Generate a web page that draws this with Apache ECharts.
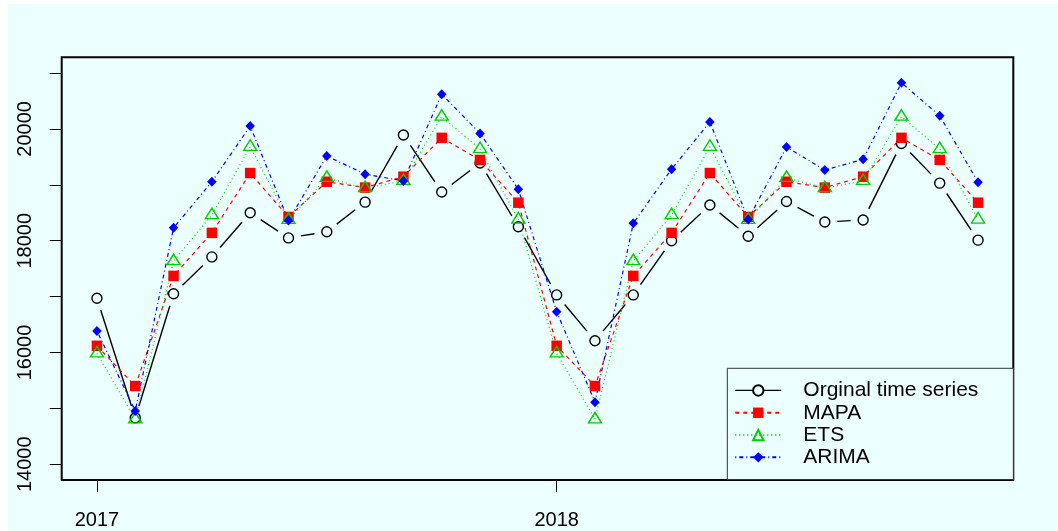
<!DOCTYPE html>
<html>
<head>
<meta charset="utf-8">
<script src="https://cdn.jsdelivr.net/npm/echarts@6/dist/echarts.min.js"></script>
<style>
  html, body { margin: 0; padding: 0; background: #ffffff; }
  #chart { position: absolute; left: 8px; top: 4px; width: 1050px; height: 527px; }
</style>
</head>
<body>
<div id="chart"></div>
<script>
// Monthly index: 0 = Jan 2017 ... 23 = Dec 2018
var months = [0, 1, 2, 3, 4, 5, 6, 7, 8, 9, 10, 11, 12, 13, 14, 15, 16, 17, 18, 19, 20, 21, 22, 23];

var original = [16970, 14830, 17050, 17710, 18500, 18050, 18160, 18690, 19890, 18870, 19390, 18250,
                17030, 16210, 17030, 18000, 18640, 18080, 18700, 18335, 18370, 19740, 19030, 18010];
var mapa     = [16120, 15400, 17370, 18140, 19210, 18425, 19055, 18950, 19145, 19840, 19445, 18680,
                16120, 15400, 17370, 18140, 19210, 18425, 19055, 18950, 19145, 19840, 19445, 18680];
var ets      = [15985, 14805, 17635, 18460, 19680, 18375, 19125, 18940, 19070, 20220, 19640, 18380,
                15985, 14805, 17635, 18460, 19680, 18375, 19125, 18940, 19070, 20220, 19640, 18380];
var arima    = [16385, 14955, 18230, 19055, 20050, 18360, 19515, 19190, 19070, 20620, 19920, 18920,
                16730, 15110, 18310, 19280, 20125, 18380, 19675, 19265, 19455, 20825, 20235, 19045];

var seriesNames = ['Orginal time series', 'MAPA', 'ETS', 'ARIMA'];

var xTickValues = [0, 12];
var xTickLabels = ['2017', '2018'];
var yTickValues = [14000, 15000, 16000, 17000, 18000, 19000, 20000, 21000];
var yLabelValues = [14000, 16000, 18000, 20000];

var BG = '#EBFFFF';
var FONT = '"Liberation Sans", Arial, Helvetica, sans-serif';

function pairs(ys) {
  return months.map(function (m, i) { return [m, ys[i]]; });
}

// Segments between consecutive observations (drawn with a gap around each point)
var segments = [];
for (var i = 0; i < months.length - 1; i++) {
  segments.push([months[i], original[i], months[i + 1], original[i + 1]]);
}

var chart = echarts.init(document.getElementById('chart'), null, { renderer: 'canvas' });

chart.setOption({
  animation: false,
  backgroundColor: BG,
  textStyle: { fontFamily: FONT },
  grid: {
    left: 53.7, top: 53.3, right: 44.7, bottom: 51,
    show: true, borderColor: '#000', borderWidth: 2, backgroundColor: 'transparent'
  },
  xAxis: {
    type: 'value', min: -0.92, max: 23.92,
    axisLine: { show: false, onZero: false },
    splitLine: { show: false },
    axisTick: { show: true, inside: false, length: 12, customValues: xTickValues,
                lineStyle: { color: '#000', width: 1 } },
    axisLabel: {
      customValues: xTickValues, margin: 30, color: '#000', fontSize: 20, fontFamily: FONT,
      formatter: function (v) { return xTickLabels[xTickValues.indexOf(v)]; }
    }
  },
  yAxis: {
    type: 'value', min: 13719, max: 21281,
    axisLine: { show: false, onZero: false },
    splitLine: { show: false },
    axisTick: { show: true, inside: false, length: 12, customValues: yTickValues,
                lineStyle: { color: '#000', width: 1 } },
    axisLabel: {
      customValues: yLabelValues, rotate: 90, margin: 26, color: '#000', fontSize: 20, fontFamily: FONT,
      formatter: function (v) { return String(v); }
    }
  },
  legend: {
    orient: 'vertical', left: 719.3, top: 364.3,
    itemWidth: 46, itemHeight: 13, itemGap: 0,
    padding: [11, 35, 11, 7],
    borderColor: '#333', borderWidth: 1, backgroundColor: BG,
    selectedMode: false,
    textStyle: { fontSize: 21, color: '#000', fontFamily: FONT, lineHeight: 22.3, padding: [0, 0, 0, 17] },
    data: [
      { name: seriesNames[0], lineStyle: { color: '#000', width: 1.3, type: 'solid', opacity: 1 } },
      { name: seriesNames[1] },
      { name: seriesNames[2] },
      { name: seriesNames[3] }
    ]
  },
  series: [
    {
      type: 'custom',
      silent: true,
      data: segments,
      encode: { x: [0, 2], y: [1, 3] },
      renderItem: function (params, api) {
        var a = api.coord([api.value(0), api.value(1)]);
        var b = api.coord([api.value(2), api.value(3)]);
        var dx = b[0] - a[0], dy = b[1] - a[1];
        var len = Math.sqrt(dx * dx + dy * dy);
        var g = 12.5;
        if (len <= 2 * g) return null;
        var ux = dx / len, uy = dy / len;
        return {
          type: 'line',
          shape: { x1: a[0] + ux * g, y1: a[1] + uy * g, x2: b[0] - ux * g, y2: b[1] - uy * g },
          style: { stroke: '#000', lineWidth: 1.4 }
        };
      }
    },
    {
      name: seriesNames[0], type: 'line', data: pairs(original),
      symbol: 'circle', symbolSize: 10,
      lineStyle: { width: 0, opacity: 0, color: '#000' },
      itemStyle: { color: BG, borderColor: '#000', borderWidth: 1.4 }
    },
    {
      name: seriesNames[1], type: 'line', data: pairs(mapa),
      symbol: 'rect', symbolSize: 10.5,
      lineStyle: { width: 1.2, color: '#FF0000', type: [4, 4] },
      itemStyle: { color: '#FF0000', borderWidth: 0 }
    },
    {
      name: seriesNames[2], type: 'line', data: pairs(ets),
      symbol: 'triangle', symbolSize: [13, 10.5], symbolOffset: [0, -1.7],
      lineStyle: { width: 1.2, color: '#00CD00', type: [1, 3] },
      itemStyle: { color: 'transparent', borderColor: '#00CD00', borderWidth: 1.4 }
    },
    {
      name: seriesNames[3], type: 'line', data: pairs(arima),
      symbol: 'diamond', symbolSize: [9.5, 10],
      lineStyle: { width: 1.2, color: '#0000FF', type: [1, 3, 4, 3] },
      itemStyle: { color: '#0000FF', borderWidth: 0 }
    }
  ]
});
</script>
</body>
</html>
